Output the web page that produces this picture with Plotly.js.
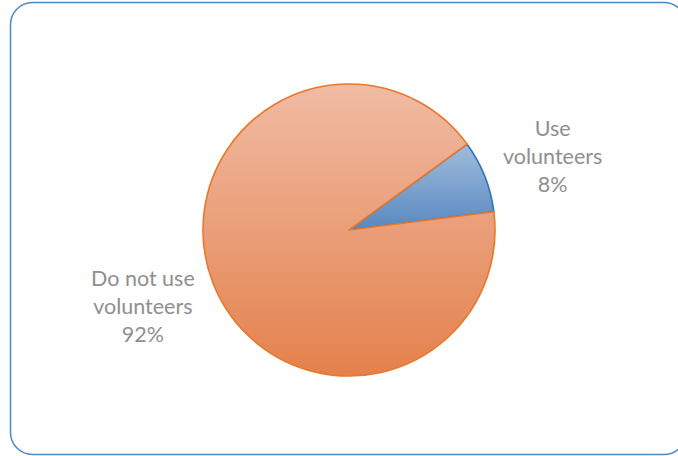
<!DOCTYPE html>
<html>
<head>
<meta charset="utf-8">
<script src="https://cdn.plot.ly/plotly-3.0.1.min.js"></script>
<style>html,body{margin:0;padding:0;background:#fff;}#chart{width:678px;height:456px;}</style>
</head>
<body>
<div id="chart"></div>
<script>
const labels = ["Use volunteers", "Do not use volunteers"];
const labelLines = ["Use<br>volunteers", "Do not use<br>volunteers"];
const values = [8, 92];
const sliceColors = ["#7BA2CE", "#EAA17D"];
const lineColors = ["#2E75B6", "#E8782A"];
const gradStops = [["#A0BCDB", "#5888C0"], ["#F0BBA4", "#E4814C"]];

const W = 678, H = 456;
const cx = 349, cy = 230, R = 146;

// rounded frame
function px(x){return x / W;}
function py(y){return 1 - y / H;}
const L = 10.5, T = 2.5, Rt = 686, B = 454.5, rad = 22, k = 0.5523 * rad;
const framePath =
  `M ${px(L+rad)},${py(T)} L ${px(Rt-rad)},${py(T)} ` +
  `C ${px(Rt-rad+k)},${py(T)} ${px(Rt)},${py(T+rad-k)} ${px(Rt)},${py(T+rad)} ` +
  `L ${px(Rt)},${py(B-rad)} ` +
  `C ${px(Rt)},${py(B-rad+k)} ${px(Rt-rad+k)},${py(B)} ${px(Rt-rad)},${py(B)} ` +
  `L ${px(L+rad)},${py(B)} ` +
  `C ${px(L+rad-k)},${py(B)} ${px(L)},${py(B-rad+k)} ${px(L)},${py(B-rad)} ` +
  `L ${px(L)},${py(T+rad)} ` +
  `C ${px(L)},${py(T+rad-k)} ${px(L+rad-k)},${py(T)} ${px(L+rad)},${py(T)} Z`;

const total = values.reduce((a,b)=>a+b,0);
const annPos = [[552, 156], [143, 306]];
const annotations = labels.map((l, i) => ({
  xref: 'paper', yref: 'paper',
  x: px(annPos[i][0]), y: py(annPos[i][1]),
  xanchor: 'center', yanchor: 'middle',
  text: labelLines[i] + '<br>' + Math.round(values[i] / total * 100) + '%',
  showarrow: false,
  align: 'center',
  font: {family: 'Lato, "Open Sans", sans-serif', size: 21.5, color: '#8F8F8F'}
}));

const trace = {
  type: 'pie',
  labels: labels,
  values: values,
  sort: false,
  direction: 'clockwise',
  rotation: 54,
  textinfo: 'none',
  hoverinfo: 'label+percent',
  marker: {colors: sliceColors, line: {color: lineColors, width: 1.6}},
  domain: {x: [px(cx - R), px(cx + R)], y: [py(cy + R), py(cy - R)]},
  showlegend: false
};

const layout = {
  width: W, height: H,
  margin: {l: 0, r: 0, t: 0, b: 0},
  paper_bgcolor: '#ffffff',
  showlegend: false,
  annotations: annotations,
  shapes: [{type: 'path', xref: 'paper', yref: 'paper', path: framePath,
            line: {color: '#4A88C7', width: 1.5}, fillcolor: 'rgba(0,0,0,0)', layer: 'above'}]
};

Plotly.newPlot('chart', [trace], layout, {displayModeBar: false, staticPlot: true}).then(() => {
  const svg = document.querySelector('#chart svg.main-svg');
  const ns = 'http://www.w3.org/2000/svg';
  let defs = svg.querySelector('defs');
  if (!defs) { defs = document.createElementNS(ns, 'defs'); svg.insertBefore(defs, svg.firstChild); }
  gradStops.forEach((st, i) => {
    const g = document.createElementNS(ns, 'linearGradient');
    g.setAttribute('id', 'sliceGrad' + i);
    g.setAttribute('x1', '0'); g.setAttribute('y1', '0');
    g.setAttribute('x2', '0'); g.setAttribute('y2', '1');
    [[0, st[0]], [1, st[1]]].forEach(([o, c]) => {
      const s = document.createElementNS(ns, 'stop');
      s.setAttribute('offset', o); s.setAttribute('stop-color', c);
      g.appendChild(s);
    });
    defs.appendChild(g);
  });
  document.querySelectorAll('#chart .slice path.surface').forEach((p, i) => {
    p.style.fill = 'url(#sliceGrad' + i + ')';
  });
});
</script>
</body>
</html>
